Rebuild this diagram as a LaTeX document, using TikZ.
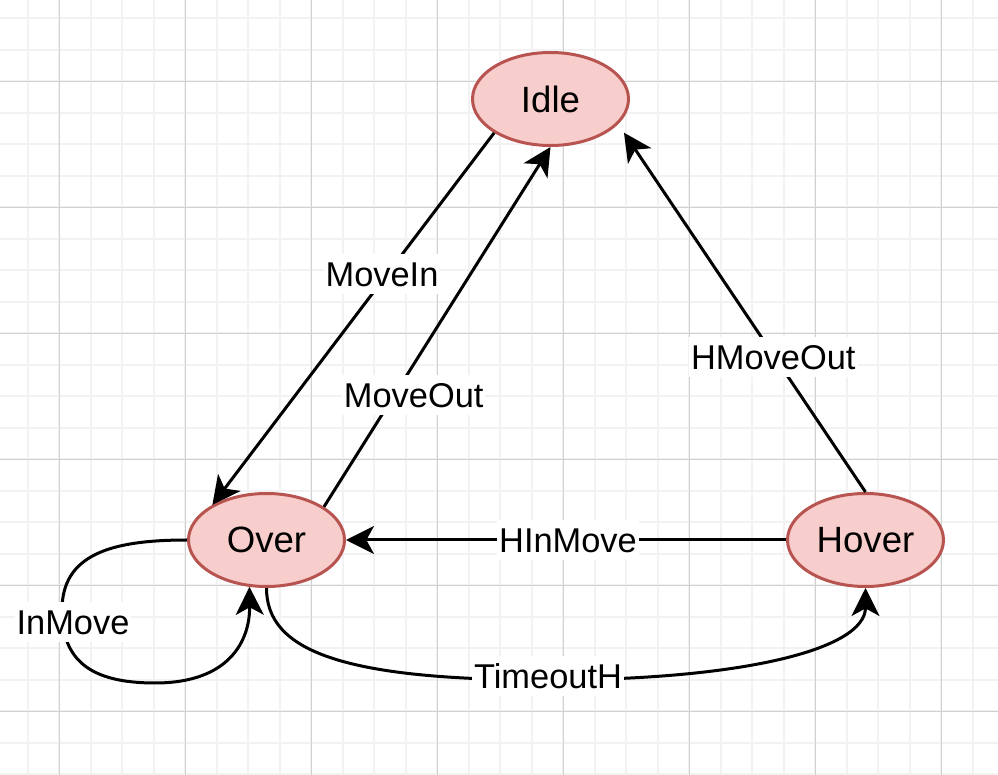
\documentclass[tikz,border=0pt]{standalone}
\usepackage{fontspec}
\setmainfont{Liberation Sans}
\usetikzlibrary{arrows.meta,shapes.geometric,calc}
\definecolor{gridmajor}{HTML}{D0D0D0}
\definecolor{gridminor}{HTML}{F2F2F2}
\definecolor{stfill}{HTML}{F8CECC}
\definecolor{stdraw}{HTML}{B85450}
\begin{document}
\begin{tikzpicture}[x=0.5pt,y=-0.5pt,
 state/.style={ellipse, draw=stdraw, fill=stfill, line width=1.5pt, minimum width=78pt, minimum height=46.5pt, inner sep=0pt, font=\fontsize{18.3pt}{22pt}\selectfont},
 edge/.style={line width=1.5pt, -{Stealth[length=14pt,width=14pt,inset=3.8pt]}},
 lbl/.style={fill=white, inner xsep=1pt, inner ysep=0pt, text height=16.2pt, text depth=3.8pt, font=\fontsize{17.2pt}{20pt}\selectfont},
 gmin/.style={draw=gridminor, line width=1pt},
 gmaj/.style={draw=gridmajor, line width=0.5pt}]
\useasboundingbox[fill=white] (0,0) rectangle (998,775);
% grid
\foreach \i in {0,...,30} \draw[gmin] ({27.8+31.5*\i},0) -- ({27.8+31.5*\i},775);
\foreach \j in {0,...,24} \draw[gmin] (0,{18.3+31.5*\j}) -- (998,{18.3+31.5*\j});
\foreach \k in {0,...,7} \draw[gmaj] ({59.3+126*\k},0) -- ({59.3+126*\k},775);
\foreach \k in {0,...,5} \draw[gmaj] (0,{81.3+126*\k}) -- (998,{81.3+126*\k});
% states
\node[state] (Idle) at (550.5,99) {Idle};
\node[state] (Over) at (266.5,540) {Over};
\node[state] (Hover) at (865.5,540) {Hover};
% transitions
\draw[edge] (Idle.211.4) -- (Over.147.4) node[lbl] at (382,273.7) {MoveIn};
\draw[edge] (Over.30.4) -- (Idle.south) node[lbl] at (413.7,395.3) {MoveOut};
\draw[edge] (Hover.north) -- ($(Idle.center)+(73.5,33.7)$) node[lbl] at (773.3,357.5) {HMoveOut};
\draw[edge] (Hover.west) -- (Over.east) node[lbl] at (568,540.5) {HInMove};
\draw[edge] (Over.west) .. controls (110,540) and (62,555) .. (62,610) .. controls (62,660) and (90,683) .. (155,683) .. controls (230,683) and (250,640) .. (Over.250.5) node[lbl] at (73,622) {InMove};
\draw[edge] (Over.south) .. controls (266.5,650) and (340,680) .. (548,680) .. controls (740,680) and (865.5,650) .. (Hover.south) node[lbl] at (548,676) {TimeoutH};
\end{tikzpicture}
\end{document}
